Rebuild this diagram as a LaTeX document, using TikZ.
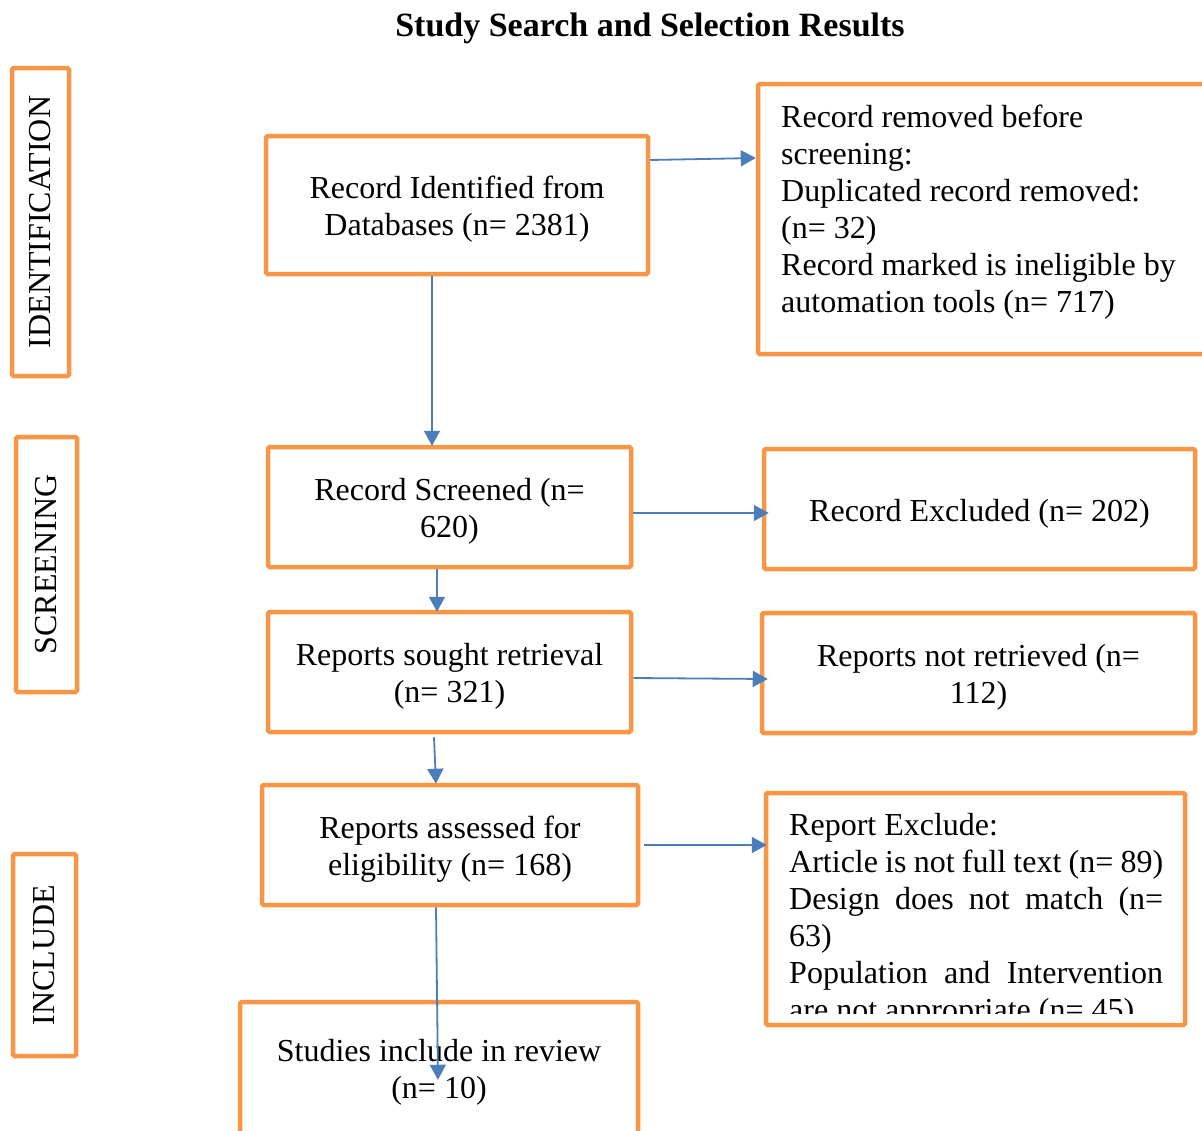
\documentclass[tikz,border=0pt]{standalone}
\usepackage{fontspec}
\setmainfont{Liberation Serif}
\usetikzlibrary{arrows.meta}
\definecolor{boxorange}{RGB}{247,150,70}
\definecolor{arrowblue}{RGB}{74,126,187}
\tikzset{
  box/.style={draw=boxorange, line width=4.5pt, rounded corners=1.5pt, inner sep=0pt,
    align=center, font=\fontsize{32}{37}\selectfont},
  plain/.style={inner sep=0pt, font=\fontsize{32}{37}\selectfont},
  arr/.style={draw=arrowblue, line width=1.8pt, -{Triangle[length=15pt,width=16pt]}}
}
\begin{document}
\begin{tikzpicture}[x=1pt,y=-1pt]
\useasboundingbox (0,0) rectangle (1202,1130);
\clip (0,0) rectangle (1202,1130);
\fill[white] (0,0) rectangle (1202,1130);

% title
\node[inner sep=0pt, font=\bfseries\fontsize{34}{40}\selectfont] (title) at (650,28) {Study Search and Selection Results};

% stage labels
\node[box, rotate=90, minimum width=308pt, minimum height=57pt] (ident) at (40.5,222) {IDENTIFICATION};
\node[box, rotate=90, minimum width=255pt, minimum height=61pt] (scr) at (46.5,564.5) {SCREENING};
\node[box, rotate=90, minimum width=202pt, minimum height=63pt] (incl) at (44.5,955) {INCLUDE};

% main boxes
\node[box, minimum width=382pt, minimum height=138pt] (b1) at (457,205) {};
\node[plain, align=center] (b1t) at ([yshift=-4pt]b1.center) {Record Identified from\\Databases (n= 2381)};

\node[box, minimum width=452pt, minimum height=270pt] (b2) at (984,219) {};
\node[plain, anchor=base west, text width=420pt, align=left] (b2t) at (781,127) {\spaceskip=0.25em plus 0.05em minus 0.02em Record removed before\\screening:\\Duplicated record removed:\\(n= 32)\\Record marked is ineligible by\\automation tools (n= 717)};

\node[box, minimum width=363pt, minimum height=120pt] (b3) at (449.5,507) {};
\node[plain, align=center] (b3t) at ([yshift=-4.5pt]b3.center) {Record Screened (n=\\620)};

\node[box, minimum width=431pt, minimum height=120pt] (b4) at (979.5,509) {};
\node[plain] (b4t) at ([yshift=-5pt]b4.center) {Record Excluded (n= 202)};

\node[box, minimum width=363pt, minimum height=120pt] (b5) at (449.5,672) {};
\node[plain, align=center] (b5t) at ([yshift=-4pt]b5.center) {Reports sought retrieval\\(n= 321)};

\node[box, minimum width=433pt, minimum height=120pt] (b6) at (978.5,673) {};
\node[plain, align=center] (b6t) at ([yshift=-4pt]b6.center) {Reports not retrieved (n=\\112)};

\node[box, minimum width=376pt, minimum height=120pt] (b7) at (450,845) {};
\node[plain, align=center] (b7t) at ([yshift=-4pt]b7.center) {Reports assessed for\\eligibility (n= 168)};

\node[box, minimum width=419pt, minimum height=232pt] (b8) at (975.5,909) {};
\begin{scope}
  \clip (768,796) rectangle (1183,1013);
  \node[plain, anchor=base west, text width=374pt, align=justify] (b8t) at (789,835)
    {\tolerance=9999 Report Exclude:\\Article is not full text (n=~89)\\Design does not match (n=\linebreak 63)\\Population and Intervention\linebreak are not appropriate (n=~45)};
\end{scope}

\node[box, minimum width=398pt, minimum height=135pt] (b9) at (439,1069.5) {};
\node[plain, align=center] (b9t) at ([yshift=-3pt]b9.center) {Studies include in review\\(n= 10)};

% connectors
\draw[arr] ([yshift=45pt]b1.east) -- ([yshift=61pt]b2.west);
\draw[arr] ([xshift=-25pt]b1.south) -- ([xshift=-17.5pt,yshift=-1pt]b3.north);
\draw[arr] ([yshift=-6pt]b3.east) -- ([xshift=7pt,yshift=-4pt]b4.west);
\draw[arr] ([xshift=-12.5pt]b3.south) -- ([xshift=-12.5pt,yshift=-2pt]b5.north);
\draw[arr] ([yshift=-6pt]b5.east) -- ([xshift=8pt,yshift=-6pt]b6.west);
\draw[arr] ([xshift=-15.5pt,yshift=-3pt]b5.south) -- ([xshift=-14pt,yshift=-1pt]b7.north);
\draw[arr] ([xshift=4pt]b7.east) -- ([xshift=3pt,yshift=64pt]b8.west);
\draw[arr] ([xshift=-14pt]b7.south) -- ([xshift=-1pt,yshift=-80pt]b9.north);
\end{tikzpicture}
\end{document}
